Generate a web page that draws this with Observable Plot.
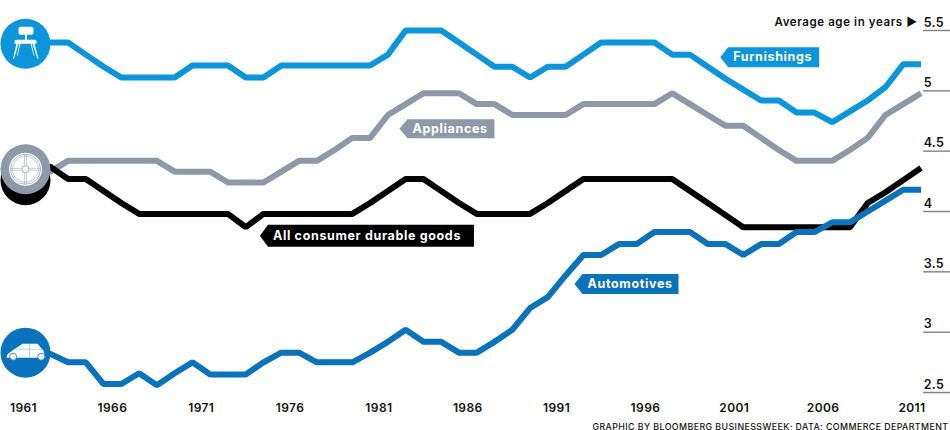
<!DOCTYPE html>
<html><head><meta charset="utf-8">
<script src="https://cdn.jsdelivr.net/npm/d3@7"></script>
<script src="https://cdn.jsdelivr.net/npm/@observablehq/plot@0.6"></script>
<style>html,body{margin:0;padding:0;background:#fff}svg{display:block;font-family:Inter,"Liberation Sans",sans-serif}
.ls-age{letter-spacing:.3px}.ls-head{letter-spacing:.6px}.ls-tag{letter-spacing:.65px}.ls-year{letter-spacing:.4px}.ls-foot{letter-spacing:.43px}</style>
</head><body><div id="chart"></div>
<script>
const years = d3.range(1961, 2012);
const furnishings = [5.4,5.4,5.4,5.3,5.2,5.11,5.11,5.11,5.11,5.21,5.21,5.21,5.11,5.11,5.21,5.21,5.21,5.21,5.21,5.21,5.3,5.5,5.5,5.5,5.4,5.3,5.2,5.2,5.11,5.2,5.2,5.3,5.4,5.4,5.4,5.4,5.3,5.3,5.2,5.1,5.01,4.92,4.92,4.82,4.82,4.74,4.83,4.92,5.03,5.22,5.22];
const appliances = [4.3,4.33,4.42,4.42,4.42,4.42,4.42,4.42,4.33,4.33,4.33,4.24,4.24,4.24,4.33,4.42,4.42,4.51,4.61,4.61,4.8,4.89,4.98,4.98,4.98,4.89,4.89,4.8,4.8,4.8,4.8,4.89,4.89,4.89,4.89,4.89,4.98,4.89,4.8,4.71,4.71,4.61,4.51,4.42,4.42,4.42,4.51,4.61,4.8,4.89,4.98];
const durable = [4.4,4.37,4.27,4.27,4.17,4.07,3.98,3.98,3.98,3.98,3.98,3.98,3.87,3.98,3.98,3.98,3.98,3.98,3.98,4.07,4.17,4.27,4.27,4.17,4.07,3.98,3.98,3.98,3.98,4.07,4.17,4.27,4.27,4.27,4.27,4.27,4.27,4.17,4.07,3.97,3.87,3.87,3.87,3.87,3.87,3.87,3.87,4.07,4.16,4.26,4.36];
const automotives = [2.85,2.82,2.75,2.75,2.57,2.57,2.66,2.56,2.66,2.75,2.65,2.65,2.65,2.75,2.83,2.83,2.75,2.75,2.75,2.83,2.92,3.02,2.92,2.92,2.83,2.83,2.92,3.02,3.2,3.29,3.47,3.64,3.64,3.73,3.73,3.83,3.83,3.83,3.73,3.73,3.64,3.73,3.73,3.83,3.83,3.91,3.91,4.0,4.09,4.18,4.18];

const seriesNames = ["Furnishings","Appliances","All consumer durable goods","Automotives"];
const seriesColors = ["#0d95db","#8e99a8","#000000","#0a72ba"];
const seriesValues = [furnishings,appliances,durable,automotives];
const labelYears = [1999.7,1981.65,1973.8,1991.5];
const labelValues = [5.278,4.685,3.80,3.40];
const labelWidths = [99,95,214,104];
const labelHeights = [20,19,22,20];

const yearTicks = [1961,1966,1971,1976,1981,1986,1991,1996,2001,2006,2011];
const ageTicks = [5.5,5,4.5,4,3.5,3,2.5];
const ageLabels = ["5.5","5","4.5","4","3.5","3","2.5"];
const iconYear = 1961;
const iconValues = {chair:5.39, wheelShadow:4.26, wheel:4.35, car:2.83};

const tag = (w,h)=>({draw(c){c.moveTo(0,0);c.lineTo(8,-h/2);c.lineTo(w,-h/2);c.lineTo(w,h/2);c.lineTo(8,h/2);c.closePath();}});
const chair = {draw(c){
  c.moveTo(-5,-17);c.lineTo(6,-17);c.quadraticCurveTo(8,-17,8,-15);c.lineTo(8,-11);c.quadraticCurveTo(8,-9,6,-9);c.lineTo(-5,-9);c.quadraticCurveTo(-7,-9,-7,-11);c.lineTo(-7,-15);c.quadraticCurveTo(-7,-17,-5,-17);c.closePath();
  c.rect(-0.5,-9,2,5);
  c.moveTo(-9,-4);c.lineTo(9,-4);c.quadraticCurveTo(11,-4,11,-2);c.lineTo(11,0);c.lineTo(-11,0);c.lineTo(-11,-2);c.quadraticCurveTo(-11,-4,-9,-4);c.closePath();
  c.moveTo(-9,0);c.lineTo(-7,0);c.lineTo(-11.5,15);c.lineTo(-12.5,15);c.closePath();
  c.moveTo(7,0);c.lineTo(9,0);c.lineTo(13,15);c.lineTo(12,15);c.closePath();
  c.moveTo(-6,0);c.lineTo(-5,0);c.lineTo(-8,12);c.lineTo(-8.7,12);c.closePath();
  c.moveTo(5,0);c.lineTo(6,0);c.lineTo(9,12);c.lineTo(8.3,12);c.closePath();
}};
const car = {draw(c){
  c.moveTo(-19,5);c.lineTo(-18,1.5);c.lineTo(-12,-3);c.lineTo(-3,-9);c.lineTo(12,-9);c.lineTo(18,-2);c.lineTo(20,5);c.closePath();
}};
const carLines = {draw(c){
  c.moveTo(-11,-3.5);c.lineTo(17,-3.5);c.moveTo(4,-9);c.lineTo(4,5);
}};
const carWheels = {draw(c){
  c.moveTo(-8.8,4);c.arc(-12.3,4,3.5,0,2*Math.PI);c.closePath();
  c.moveTo(19.2,4);c.arc(15.7,4,3.5,0,2*Math.PI);c.closePath();
}};
const cross = {draw(c){
  for (const o of [-0.9,0.9]) {
    c.moveTo(-15,o);c.lineTo(-4,o);c.moveTo(4,o);c.lineTo(15,o);
    c.moveTo(o,-15);c.lineTo(o,-4);c.moveTo(o,4);c.lineTo(o,15);
  }
}};
const iconDot = (value,o)=>Plot.dot([value],{x:()=>iconYear,y:d=>d,dx:-7,...o});

const textFont = {fontFamily:"Inter,'Liberation Sans',sans-serif"};
const gridStart = 2011.15, gridEnd = 2012.7;

const plot = Plot.plot({
  width:950,height:430,
  marginTop:0,marginRight:0,marginBottom:0,marginLeft:0,
  x:{domain:[1961,2011],range:[32,920.5],axis:null},
  y:{domain:[2.5,5.5],range:[392,30],axis:null},
  marks:[
    Plot.ruleY(ageTicks,{x1:()=>gridStart,x2:()=>gridEnd,y:d=>d,stroke:"#808080",strokeWidth:1.4}),
    Plot.text(ageTicks,{x:()=>gridStart,y:d=>d,text:(d,i)=>ageLabels[i],textAnchor:"start",dy:-8,fontSize:12.5,fontWeight:600,className:"ls-age",fill:"#111",...textFont}),
    Plot.text(["Average age in years ►"],{x:()=>2011.15,y:()=>5.5,text:d=>d,textAnchor:"end",dx:-6,dy:-8,fontSize:11.5,fontWeight:600,className:"ls-head",fill:"#111",...textFont}),
    ...seriesValues.map((vals,i)=>Plot.line(years,{x:d=>d,y:(d,j)=>vals[j],stroke:seriesColors[i],strokeWidth:6,strokeLinejoin:"miter",strokeLinecap:"butt",curve:"linear"})),
    ...seriesNames.map((n,i)=>Plot.dot([n],{x:()=>labelYears[i],y:()=>labelValues[i],r:10,symbol:tag(labelWidths[i],labelHeights[i]),fill:seriesColors[i],stroke:"none"})),
    ...seriesNames.map((n,i)=>Plot.text([n],{x:()=>labelYears[i],y:()=>labelValues[i],text:d=>d,textAnchor:"start",dx:13,fontSize:12.5,fontWeight:700,className:"ls-tag",fill:"#fff",...textFont})),
    iconDot(iconValues.wheelShadow,{r:25,fill:"#000"}),
    iconDot(iconValues.wheel,{r:25,fill:seriesColors[1]}),
    iconDot(iconValues.wheel,{r:16.5,fill:"#fff"}),
    iconDot(iconValues.wheel,{r:15,fill:"none",stroke:seriesColors[1],strokeWidth:0.7}),
    iconDot(iconValues.wheel,{r:13,fill:"none",stroke:seriesColors[1],strokeWidth:0.5}),
    iconDot(iconValues.wheel,{r:10,symbol:cross,fill:"none",stroke:seriesColors[1],strokeWidth:0.5}),
    iconDot(iconValues.wheel,{r:3.5,fill:"#fff",stroke:seriesColors[1],strokeWidth:0.8}),
    iconDot(iconValues.chair,{r:25,fill:seriesColors[0]}),
    iconDot(iconValues.chair,{r:10,symbol:chair,fill:"#fff",stroke:"none"}),
    iconDot(iconValues.car,{r:25,fill:seriesColors[3]}),
    iconDot(iconValues.car,{r:10,symbol:car,fill:"#fff",stroke:"none"}),
    iconDot(iconValues.car,{r:10,symbol:carLines,fill:"none",stroke:"#7fb2d9",strokeWidth:0.6}),
    iconDot(iconValues.car,{r:10,symbol:carWheels,fill:"#fff",stroke:seriesColors[3],strokeWidth:0.8}),
    Plot.text(yearTicks,{x:d=>d,y:()=>2.5,text:d=>String(d),dx:-9,dy:16,fontSize:12,fontWeight:600,className:"ls-year",fill:"#111",...textFont}),
    Plot.text(["GRAPHIC BY BLOOMBERG BUSINESSWEEK; DATA: COMMERCE DEPARTMENT"],{frameAnchor:"bottom-right",text:d=>d,textAnchor:"end",dx:-2,dy:-1,fontSize:8.8,fontWeight:500,className:"ls-foot",fill:"#111",...textFont,lineAnchor:"bottom"})
  ]
});
document.getElementById("chart").append(plot);
</script></body></html>
